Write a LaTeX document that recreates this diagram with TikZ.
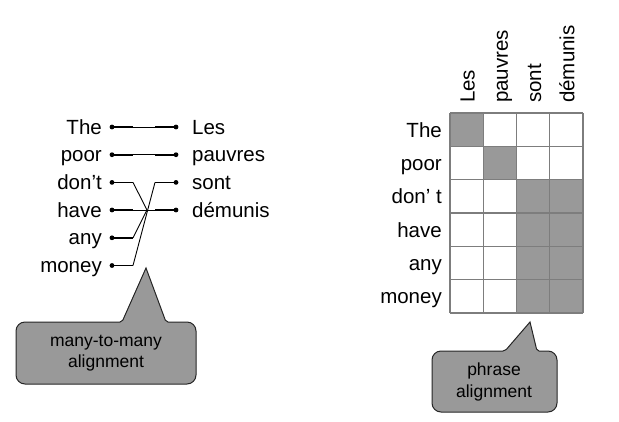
\documentclass[tikz,border=0pt]{standalone}
\usepackage{fontspec}
\setmainfont{Liberation Sans}
\usepackage{xcolor}
\usetikzlibrary{positioning, calc}

\definecolor{cellgray}{RGB}{153,153,153}
\definecolor{linegray}{RGB}{125,125,125}

\tikzset{
  word/.style={font=\fontsize{20.5}{24}\selectfont, inner sep=0pt},
  dot/.style={circle, fill=black, inner sep=0pt, minimum size=4.8pt},
  stub/.style={line width=1.7pt},
  link/.style={line width=0.9pt},
  gridline/.style={draw=linegray, line width=1.1pt},
  bubble/.style={fill=cellgray, draw=black!85, line width=1pt},
  bubbletext/.style={font=\fontsize{17.5}{21.5}\selectfont, align=center, inner sep=0pt}
}

\begin{document}
\begin{tikzpicture}[x=1pt,y=-1pt]
      \useasboundingbox (0,0) rectangle (619,421);

      % many-to-many side
      \node[word, anchor=base east] (the) at (102,134) {The};
      \node[word, anchor=base east] (poor) at (102,161.7) {poor};
      \node[word, anchor=base east] (dont) at (102,189.4) {don’t};
      \node[word, anchor=base east] (have) at (102,217) {have};
      \node[word, anchor=base east] (any) at (102,244.8) {any};
      \node[word, anchor=base east] (money) at (102,272.5) {money};

      \node[word, anchor=base west] (les) at (192,134) {Les};
      \node[word, anchor=base west] (pauvres) at (192,161.7) {pauvres};
      \node[word, anchor=base west] (sont) at (192,189.4) {sont};
      \node[word, anchor=base west] (demunis) at (192,217) {démunis};

      \node[dot] (e1) at (112,127) {};
      \node[dot] (e2) at (112,154.7) {};
      \node[dot] (e3) at (112,182.4) {};
      \node[dot] (e4) at (112,210) {};
      \node[dot] (e5) at (112,237.8) {};
      \node[dot] (e6) at (112,265.5) {};
      \node[dot] (f1) at (176,127) {};
      \node[dot] (f2) at (176,154.7) {};
      \node[dot] (f3) at (176,182.4) {};
      \node[dot] (f4) at (176,210) {};

      \draw[stub] (e1.center) -- ++(21,0);
      \draw[stub] (e2.center) -- ++(21,0);
      \draw[stub] (e3.center) -- ++(21,0) coordinate (e3end);
      \draw[stub] (e4.center) -- ++(21,0);
      \draw[stub] (e5.center) -- ++(21,0) coordinate (e5end);
      \draw[stub] (e6.center) -- ++(21,0) coordinate (e6end);
      \draw[stub] (f1.center) -- ++(-21,0);
      \draw[stub] (f2.center) -- ++(-21,0);
      \draw[stub] (f3.center) -- ++(-21,0) coordinate (f3end);
      \draw[stub] (f4.center) -- ++(-21,0);

      \coordinate (hub) at (147,210);
      \draw[link] (e1) -- (f1);
      \draw[link] (e2) -- (f2);
      \draw[link] (e4) -- (f4);
      \draw[link] (e3end) -- (hub);
      \draw[link] (e5end) -- (hub);
      \draw[link] (e6end) -- (f3end);

      \draw[bubble] (146,268) [rounded corners=2] -- (166,322) [rounded corners=9] -- (196,322) -- (196,384) -- (16,384) -- (16,322) [rounded corners=2] -- (122,322) [sharp corners] -- cycle;
      \node[bubbletext] (manytext) at (106,353) {many-to-many\\alignment};

      % phrase side
      \fill[cellgray] (450,113) rectangle (483.25,146.33);
      \fill[cellgray] (483.25,146.33) rectangle (516.5,179.67);
      \fill[cellgray] (516.5,179.67) rectangle (583,313);
      \foreach \i in {0,...,4}
        \draw[gridline] ({450+\i*33.25},113) -- ({450+\i*33.25},313);
      \foreach \j in {0,...,6}
        \draw[gridline] (450,{113+\j*33.333}) -- (583,{113+\j*33.333});

      \node[word, anchor=base east] (rthe) at (442,137) {The};
      \node[word, anchor=base east] (rpoor) at (442,170.3) {poor};
      \node[word, anchor=base east] (rdont) at (442,203.7) {don’ t};
      \node[word, anchor=base east] (rhave) at (442,237) {have};
      \node[word, anchor=base east] (rany) at (442,270.3) {any};
      \node[word, anchor=base east] (rmoney) at (442,303.7) {money};

      \node[word, rotate=90, anchor=base west] (cles) at (474.5,103) {Les};
      \node[word, rotate=90, anchor=base west] (cpauvres) at (507.8,103) {pauvres};
      \node[word, rotate=90, anchor=base west] (csont) at (541,103) {sont};
      \node[word, rotate=90, anchor=base west] (cdemunis) at (574.3,103) {démunis};

      \draw[bubble] (530,322) [rounded corners=2] -- (537,351) [rounded corners=9] -- (557,351) -- (557,412) -- (432,412) -- (432,351) [rounded corners=2] -- (505,351) [sharp corners] -- cycle;
      \node[bubbletext] (phrasetext) at (494,382) {phrase\\alignment};
    \end{tikzpicture}
\end{document}
